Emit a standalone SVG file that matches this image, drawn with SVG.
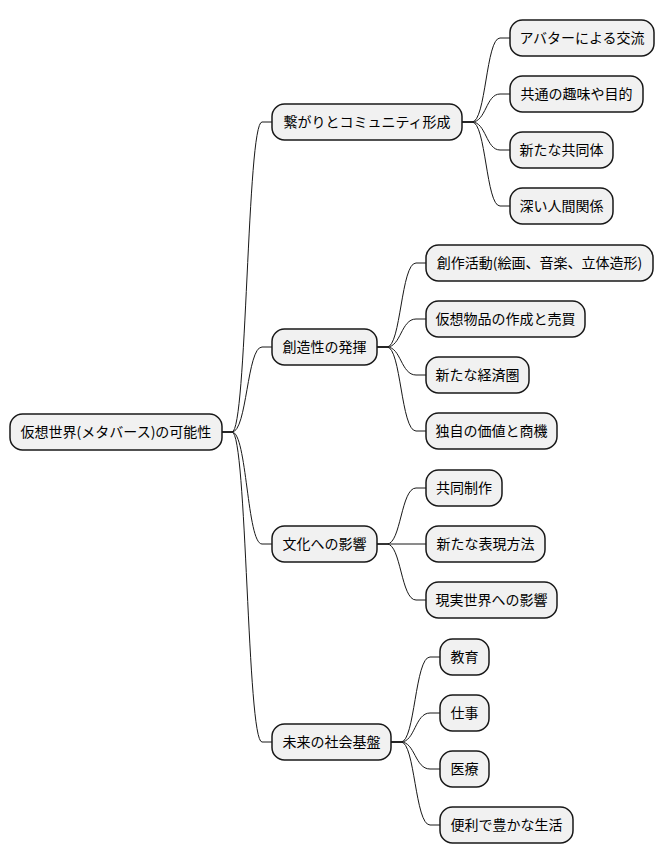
<svg xmlns="http://www.w3.org/2000/svg" width="667" height="865" viewBox="0 0 667 865">
<style>
.n rect{fill:#F1F1F1;stroke:#181818;stroke-width:1.5}
.n text{font-family:"Noto Sans CJK JP","Noto Sans",sans-serif;font-size:14px;fill:#000;text-anchor:middle}
.c path{fill:none;stroke:#181818;stroke-width:1}
</style>
<rect width="667" height="865" fill="#FFFFFF"/>
<g class="c">
<path d="M222,432 L232,432 C247,432 247,122 262,122 L272,122"/>
<path d="M222,432 L232,432 C247,432 247,347 262,347 L272,347"/>
<path d="M222,432 L232,432 C247,432 247,544 262,544 L272,544"/>
<path d="M222,432 L232,432 C247,432 247,742 262,742 L272,742"/>
<path d="M462,122 L472,122 C486,122 486,38 500,38 L510,38"/>
<path d="M462,122 L472,122 C486,122 486,94 500,94 L510,94"/>
<path d="M462,122 L472,122 C486,122 486,150 500,150 L510,150"/>
<path d="M462,122 L472,122 C486,122 486,206 500,206 L510,206"/>
<path d="M377,347 L387,347 C401,347 401,263 416,263 L426,263"/>
<path d="M377,347 L387,347 C401,347 401,319 416,319 L426,319"/>
<path d="M377,347 L387,347 C401,347 401,375 416,375 L426,375"/>
<path d="M377,347 L387,347 C401,347 401,431 416,431 L426,431"/>
<path d="M377,544 L387,544 C401,544 401,488 416,488 L426,488"/>
<path d="M377,544 L426,544"/>
<path d="M377,544 L387,544 C401,544 401,600 416,600 L426,600"/>
<path d="M391,742 L401,742 C415,742 415,657 430,657 L440,657"/>
<path d="M391,742 L401,742 C415,742 415,713 430,713 L440,713"/>
<path d="M391,742 L401,742 C415,742 415,769 430,769 L440,769"/>
<path d="M391,742 L401,742 C415,742 415,825 430,825 L440,825"/>
</g>
<g id="root" class="n"><rect x="10" y="414" width="212" height="36" rx="12.5"/><text x="116" y="437">仮想世界(メタバース)の可能性</text></g>
<g id="a" class="n"><rect x="272" y="104" width="190" height="36" rx="12.5"/><text x="367" y="127">繋がりとコミュニティ形成</text></g>
<g id="a1" class="n"><rect x="510" y="20" width="144" height="36" rx="12.5"/><text x="582" y="43">アバターによる交流</text></g>
<g id="a2" class="n"><rect x="510" y="76" width="133" height="36" rx="12.5"/><text x="576.5" y="99">共通の趣味や目的</text></g>
<g id="a3" class="n"><rect x="510" y="132" width="103" height="36" rx="12.5"/><text x="561.5" y="155">新たな共同体</text></g>
<g id="a4" class="n"><rect x="510" y="188" width="103" height="36" rx="12.5"/><text x="561.5" y="211">深い人間関係</text></g>
<g id="b" class="n"><rect x="272" y="329" width="105" height="36" rx="12.5"/><text x="324.5" y="352">創造性の発揮</text></g>
<g id="b1" class="n"><rect x="426" y="245" width="227" height="36" rx="12.5"/><text x="539.5" y="268">創作活動(絵画、音楽、立体造形)</text></g>
<g id="b2" class="n"><rect x="426" y="301" width="159" height="36" rx="12.5"/><text x="505.5" y="324">仮想物品の作成と売買</text></g>
<g id="b3" class="n"><rect x="426" y="357" width="103" height="36" rx="12.5"/><text x="477.5" y="380">新たな経済圏</text></g>
<g id="b4" class="n"><rect x="426" y="413" width="131" height="36" rx="12.5"/><text x="491.5" y="436">独自の価値と商機</text></g>
<g id="c" class="n"><rect x="272" y="526" width="105" height="36" rx="12.5"/><text x="324.5" y="549">文化への影響</text></g>
<g id="c1" class="n"><rect x="426" y="470" width="76" height="36" rx="12.5"/><text x="464" y="493">共同制作</text></g>
<g id="c2" class="n"><rect x="426" y="526" width="119" height="36" rx="12.5"/><text x="485.5" y="549">新たな表現方法</text></g>
<g id="c3" class="n"><rect x="426" y="582" width="131" height="36" rx="12.5"/><text x="491.5" y="605">現実世界への影響</text></g>
<g id="d" class="n"><rect x="272" y="724" width="119" height="36" rx="12.5"/><text x="331.5" y="747">未来の社会基盤</text></g>
<g id="d1" class="n"><rect x="440" y="639" width="49" height="36" rx="12.5"/><text x="464.5" y="662">教育</text></g>
<g id="d2" class="n"><rect x="440" y="695" width="49" height="36" rx="12.5"/><text x="464.5" y="718">仕事</text></g>
<g id="d3" class="n"><rect x="440" y="751" width="49" height="36" rx="12.5"/><text x="464.5" y="774">医療</text></g>
<g id="d4" class="n"><rect x="440" y="807" width="133" height="36" rx="12.5"/><text x="506.5" y="830">便利で豊かな生活</text></g>
</svg>
